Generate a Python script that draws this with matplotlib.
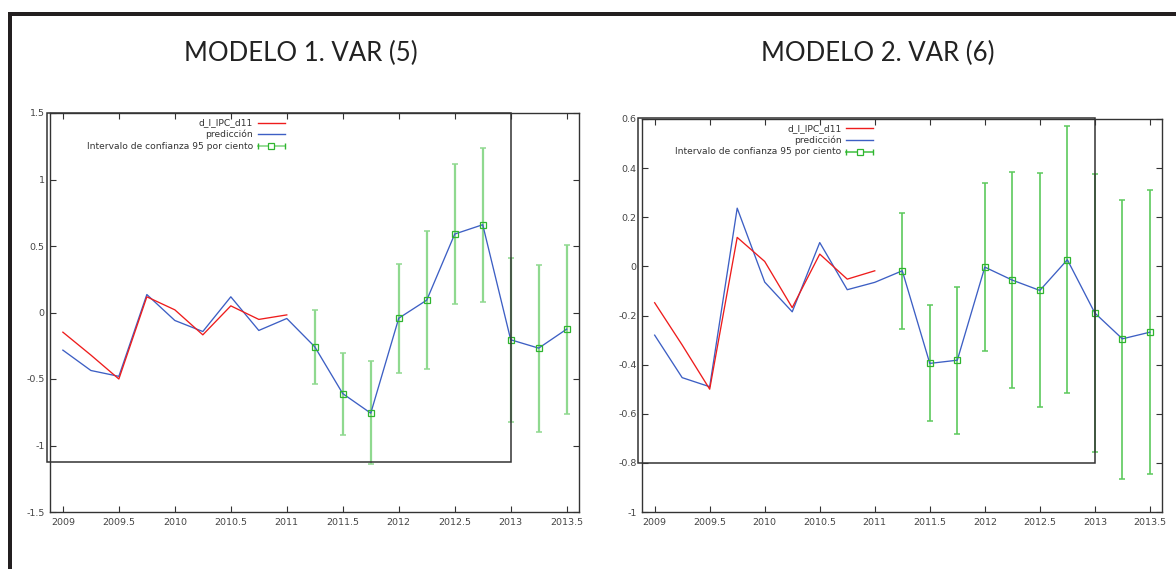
import matplotlib
matplotlib.use("Agg")
import matplotlib.pyplot as plt
from matplotlib.patches import Rectangle

# ── Data ──────────────────────────────────────────────────────────────────
QUARTERS = [2009.0, 2009.25, 2009.5, 2009.75, 2010.0, 2010.25, 2010.5, 2010.75,
            2011.0, 2011.25, 2011.5, 2011.75, 2012.0, 2012.25, 2012.5, 2012.75,
            2013.0, 2013.25, 2013.5]
ACTUAL_X = QUARTERS[:9]
FCAST_X = QUARTERS[9:]

# d_l_IPC_d11 (same observed series in both models)
actual = [-0.148, -0.32, -0.50, 0.118, 0.02, -0.168, 0.05, -0.052, -0.018]

# Model 1: VAR(5)
pred_1 = [-0.283, -0.436, -0.48, 0.135, -0.06, -0.143, 0.118, -0.135, -0.045,
          -0.258, -0.61, -0.757, -0.043, 0.093, 0.59, 0.66, -0.205, -0.268, -0.125]
lo_1 = [-0.54, -0.92, -1.138, -0.453, -0.428, 0.062, 0.077, -0.825, -0.895, -0.76]
hi_1 = [0.02, -0.306, -0.368, 0.368, 0.611, 1.12, 1.24, 0.41, 0.36, 0.506]

# Model 2: VAR(6)
pred_2 = [-0.28, -0.453, -0.49, 0.237, -0.064, -0.185, 0.097, -0.095, -0.065,
          -0.018, -0.395, -0.382, -0.003, -0.056, -0.098, 0.027, -0.19, -0.295, -0.268]
lo_2 = [-0.254, -0.631, -0.683, -0.344, -0.497, -0.574, -0.516, -0.755, -0.865, -0.846]
hi_2 = [0.219, -0.159, -0.083, 0.338, 0.384, 0.38, 0.57, 0.377, 0.271, 0.309]

X_TICKS = [2009, 2009.5, 2010, 2010.5, 2011, 2011.5, 2012, 2012.5, 2013, 2013.5]
X_LABELS = ["2009", "2009.5", "2010", "2010.5", "2011", "2011.5", "2012",
            "2012.5", "2013", "2013.5"]
Y1_TICKS = [-1.5, -1, -0.5, 0, 0.5, 1, 1.5]
Y1_LABELS = ["-1.5", "-1", "-0.5", "0", "0.5", "1", "1.5"]
Y2_TICKS = [-1, -0.8, -0.6, -0.4, -0.2, 0, 0.2, 0.4, 0.6]
Y2_LABELS = ["-1", "-0.8", "-0.6", "-0.4", "-0.2", "0", "0.2", "0.4", "0.6"]

TITLES = ["MODELO 1. VAR (5)", "MODELO 2. VAR (6)"]
LEGEND = ["d_l_IPC_d11", "predicción", "Intervalo de confianza 95 por ciento"]

RED = "#ee1c1c"
BLUE = "#3d5fc4"
GREEN_MK = "#2fb52f"

W, H = 1176, 569


def px_box(x0, y0, x1, y1):
    """pixel box (top-left origin) -> figure fraction [l, b, w, h]"""
    return [x0 / W, (H - y1) / H, (x1 - x0) / W, (y1 - y0) / H]


def draw_panel(ax, pred, lo, hi, yticks, ylabels, ylim, bar_color, bar_lw):
    err_lo = [p - l for p, l in zip(pred[9:], lo)]
    err_hi = [h - p for p, h in zip(pred[9:], hi)]
    ax.errorbar(FCAST_X, pred[9:], yerr=[err_lo, err_hi], fmt="none",
                ecolor=bar_color, elinewidth=bar_lw, capsize=2.2, capthick=1.1, zorder=2)
    ax.plot(QUARTERS, pred, color=BLUE, lw=0.95, zorder=3)
    ax.plot(FCAST_X, pred[9:], ls="none", marker="s", ms=5, mfc="none",
            mec=GREEN_MK, mew=0.9, zorder=4)
    ax.plot(ACTUAL_X, actual, color=RED, lw=0.95, zorder=3)

    ax.set_xlim(2008.885, 2013.61)
    ax.set_ylim(*ylim)
    ax.set_xticks(X_TICKS)
    ax.set_xticklabels(X_LABELS)
    ax.set_yticks(yticks)
    ax.set_yticklabels(ylabels)
    ax.tick_params(direction="in", length=4, width=0.8, color="#333333",
                   labelsize=6.8, labelcolor="#444444", top=True, right=True, pad=4)
    for s in ax.spines.values():
        s.set_color("#333333")
        s.set_linewidth(1.0)

    # gretl-style key, drawn by hand (text right-aligned, sample on the right)
    rows = [0.976, 0.947, 0.917]
    for yy, lab, col in zip(rows, LEGEND, [RED, BLUE, bar_color]):
        ax.text(0.384, yy, lab, transform=ax.transAxes, ha="right", va="center",
                fontsize=6.6, color="#333333")
        ax.plot([0.393, 0.444], [yy, yy], transform=ax.transAxes, color=col,
                lw=1.0 if col != bar_color else 1.3, clip_on=False)
    ax.plot([0.393, 0.444], [rows[2], rows[2]], transform=ax.transAxes, ls="none",
            marker="|", ms=4, mew=1.0, color=GREEN_MK, clip_on=False)
    ax.plot([0.4185], [rows[2]], transform=ax.transAxes, ls="none", marker="s",
            ms=4.5, mfc="white", mec=GREEN_MK, mew=0.9, clip_on=False)


fig = plt.figure(figsize=(W / 100, H / 100), dpi=100)
fig.patch.set_facecolor("white")

ax1 = fig.add_axes(px_box(50, 113, 579, 512))
ax2 = fig.add_axes(px_box(642, 119, 1162, 512))

draw_panel(ax1, pred_1, lo_1, hi_1, Y1_TICKS, Y1_LABELS, (-1.5, 1.5), "#8fd98f", 1.6)
draw_panel(ax2, pred_2, lo_2, hi_2, Y2_TICKS, Y2_LABELS, (-1.0, 0.6), "#5cc95c", 1.2)

# stray boxes from the pasted screenshots
for (x0, y0, x1, y1) in [(47, 113, 511, 462), (638, 118, 1095, 463)]:
    fig.add_artist(Rectangle((x0 / W, (H - y1) / H), (x1 - x0) / W, (y1 - y0) / H,
                             transform=fig.transFigure, fill=False,
                             ec="#333333", lw=1.1, zorder=5))

# titles
fig.text(301 / W, 1 - 53 / H, TITLES[0], ha="center", va="center",
         fontsize=18.5, family=["Lato", "DejaVu Sans"], color="#222222")
fig.text(878 / W, 1 - 53 / H, TITLES[1], ha="center", va="center",
         fontsize=18.5, family=["Lato", "DejaVu Sans"], color="#222222")

# page frame (top and left edges)
fig.add_artist(Rectangle((8 / W, 1 - 16 / H), (W - 8) / W, 4 / H,
                         transform=fig.transFigure, color="#231f20", lw=0))
fig.add_artist(Rectangle((8 / W, 0), 4 / W, (H - 12) / H,
                         transform=fig.transFigure, color="#231f20", lw=0))

fig.savefig("out.png", dpi=100)
